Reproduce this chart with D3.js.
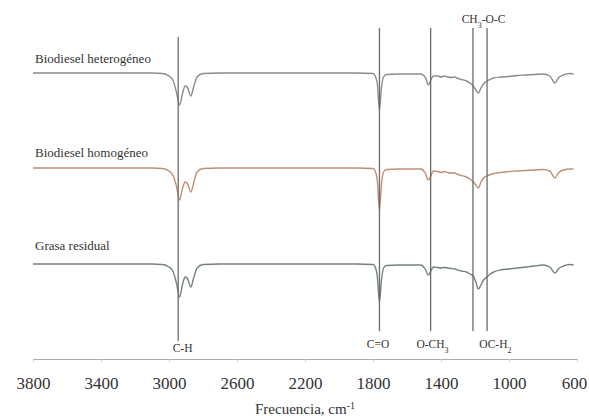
<!DOCTYPE html>
<html>
<head>
<meta charset="utf-8">
<script src="https://cdn.jsdelivr.net/npm/d3@7"></script>
<style>
  body { margin: 0; background: #fff; }
  svg text { font-family: "Liberation Serif", "Times New Roman", Times, "DejaVu Serif", serif !important; fill: #333; }
</style>
</head>
<body>
<div id="canvas"></div>
<script>
"use strict"

// wavenumbers (cm-1) shared by the three spectra
let waveNumbers = [3800, 3100, 3040, 3000, 2975, 2955, 2938, 2920, 2905, 2890, 2872, 2855, 2835, 2800, 2700,
    1900, 1800, 1790, 1775, 1762, 1750, 1738, 1720, 1650, 1520, 1490, 1475, 1460, 1445, 1420, 1400, 1380,
    1360, 1340, 1320, 1300, 1280, 1250, 1230, 1210, 1195, 1180, 1165, 1150, 1130, 1110, 1090, 1050, 1000,
    950, 900, 850, 800, 760, 730, 710, 680, 640, 620];

// transmittance (arbitrary %, 100 = baseline)
let heterogeneo = [100, 100, 99.5, 97, 92, 80, 68, 80, 87, 85, 77, 86, 96, 99.5, 100,
    100, 99.5, 98, 90, 63, 86, 96, 98.5, 99, 99, 95, 88, 93, 97, 97, 96, 97,
    96, 95.5, 96, 94.5, 93.5, 92, 90, 87, 83, 80, 85, 89, 92, 93.5, 95, 96, 96.5,
    97.5, 98, 98.5, 99, 97, 90, 95, 98, 99.5, 99];

let homogeneo = [100, 100, 99.5, 97, 92, 81, 68, 80, 86, 84, 76, 85, 96, 99.5, 100,
    100, 99.5, 98, 88, 58, 84, 96, 98.5, 99, 99, 94, 88, 92, 97, 96.5, 95.5, 96.5,
    95.5, 95, 95, 93.5, 92.5, 91, 89, 86, 83, 80, 86, 90, 92, 93.5, 94.5, 95.5, 96.5,
    97, 97.5, 98, 98.5, 97, 90, 95, 98, 99, 99];

let grasa = [100, 100, 99.5, 97, 92, 80, 67, 80, 87, 85, 77, 86, 96, 99.5, 100,
    100, 99.5, 98, 88, 62, 84, 96, 98.5, 99, 99, 94, 89, 93, 97, 96.5, 96, 96.5,
    96, 95.5, 95, 94, 93, 92, 90, 88, 82, 75, 79, 84, 87, 90, 92, 94, 95,
    96, 97, 98, 99, 97, 91, 95, 98, 99.5, 99];

let seriesNames = ["Biodiesel heterogéneo", "Biodiesel homogéneo", "Grasa residual"];
let seriesColors = ["#8b8b8b", "#c08e72", "#74817f"];

let tickValues = [3800, 3400, 3000, 2600, 2200, 1800, 1400, 1000, 600];

// band markers (cm-1)
let bandWaveNumbers = [2946, 1762, 1461, 1212, 1129];

let drawing = d3.select("#canvas")
    .append("svg")
    .attr("width", 589)
    .attr("height", 418);

let x = d3.scaleLinear()
    .domain([3800, 600])
    .range([33, 577]);

// 1 unit of transmittance = 1 pixel
let y = d3.scaleLinear()
    .domain([100, 50])
    .range([0, 50]);

let baselines = [73, 168, 264];
let allSeries = [heterogeneo, homogeneo, grasa];

let line = d3.line()
    .x(d => x(d[0]))
    .y(d => y(d[1]))
    .curve(d3.curveMonotoneX);

allSeries.forEach(function (values, i) {
    let g = drawing.append("g")
        .attr("transform", "translate(0," + baselines[i] + ")");
    g.append("path")
        .datum(d3.zip(waveNumbers, values))
        .attr("d", line)
        .attr("fill", "none")
        .attr("stroke", seriesColors[i])
        .attr("stroke-width", 1.4);
});

// series labels
let labelY = [63, 157, 250];
drawing.selectAll(".serieslabel")
    .data(seriesNames)
    .enter()
    .append("text")
    .attr("class", "serieslabel")
    .attr("x", 35)
    .attr("y", (d, i) => labelY[i])
    .attr("font-size", 13)
    .text(d => d);

// vertical band lines
let lineTops = [37, 28, 28, 28, 28];
let lineBottoms = [341, 331, 331, 331, 331];
drawing.selectAll(".band")
    .data(bandWaveNumbers)
    .enter()
    .append("line")
    .attr("class", "band")
    .attr("x1", d => x(d))
    .attr("x2", d => x(d))
    .attr("y1", (d, i) => lineTops[i])
    .attr("y2", (d, i) => lineBottoms[i])
    .attr("stroke", "#6a6a6a")
    .attr("stroke-width", 1.3);

// band labels
function bandLabel(cx, cy, parts) {
    let t = drawing.append("text")
        .attr("x", cx)
        .attr("y", cy)
        .attr("text-anchor", "middle")
        .attr("font-size", 11.5);
    parts.forEach(function (p) {
        let s = t.append("tspan").text(p[0]);
        if (p[1]) {
            s.attr("font-size", 8).attr("baseline-shift", "sub");
        }
    });
}

bandLabel(x(2920), 352, [["C-H"]]);
bandLabel(x(1770), 348, [["C=O"]]);
bandLabel(x(1450), 348, [["O-CH"], ["3", true]]);
bandLabel(x(1080), 348, [["OC-H"], ["2", true]]);
bandLabel(x(1150), 23, [["CH"], ["3", true], ["-O-C"]]);

// x axis
let xAxis = d3.axisBottom(x)
    .tickValues(tickValues)
    .tickSizeInner(3)
    .tickSizeOuter(0)
    .tickPadding(15)
    .tickFormat(d3.format("d"));

let axisG = drawing.append("g")
    .attr("transform", "translate(0,359)")
    .call(xAxis);

axisG.attr("font-family", null);
axisG.select(".domain").attr("stroke", "#aaa");
axisG.selectAll(".tick line").attr("stroke", "#ccc");
axisG.selectAll(".tick text")
    .attr("font-size", 17)
    .attr("fill", "#333")
    .attr("dx", d => d === 600 ? -3 : 0);

let title = drawing.append("text")
    .attr("x", 305)
    .attr("y", 414)
    .attr("text-anchor", "middle")
    .attr("font-size", 15);
title.append("tspan").text("Frecuencia, cm");
title.append("tspan").text("-1").attr("font-size", 10).attr("baseline-shift", "super");
</script>
</body>
</html>
